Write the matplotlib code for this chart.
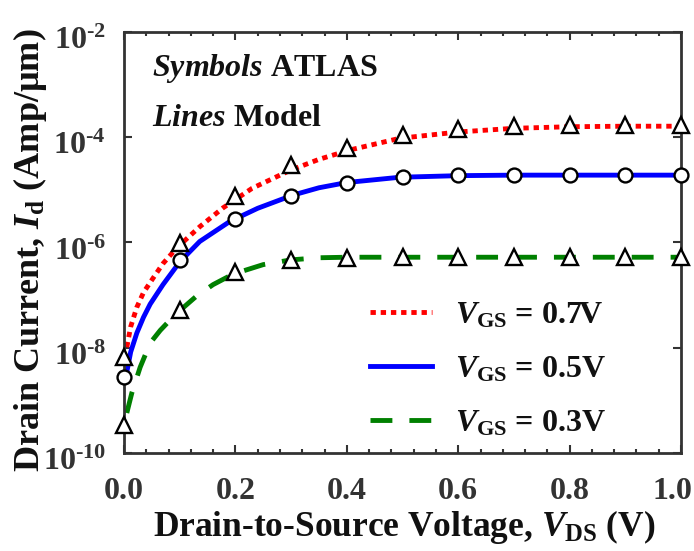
import numpy as np
import matplotlib
matplotlib.use("Agg")
import matplotlib.pyplot as plt
from matplotlib.ticker import FixedLocator, FuncFormatter
from matplotlib.transforms import ScaledTranslation

plt.rcParams['font.family'] = ['Liberation Serif', 'DejaVu Serif']
plt.rcParams['font.weight'] = 'bold'
plt.rcParams['mathtext.fontset'] = 'custom'
plt.rcParams['mathtext.rm'] = 'Liberation Serif:bold'
plt.rcParams['mathtext.bf'] = 'Liberation Serif:bold'
plt.rcParams['mathtext.it'] = 'Liberation Serif:italic:bold'

# ATLAS simulation points
vds_pts = [0.0, 0.1, 0.2, 0.3, 0.4, 0.5, 0.6, 0.7, 0.8, 0.9, 1.0]
atlas_07 = [10**-8.18, 10**-6.01, 10**-5.12, 10**-4.53, 10**-4.21, 10**-3.96,
            10**-3.85, 10**-3.79, 10**-3.77, 10**-3.77, 10**-3.77]
atlas_05 = [10**-8.56, 10**-6.33, 10**-5.56, 10**-5.12, 10**-4.87, 10**-4.75,
            10**-4.72, 10**-4.72, 10**-4.72, 10**-4.72, 10**-4.72]
atlas_03 = [10**-9.47, 10**-7.29, 10**-6.56, 10**-6.33, 10**-6.29, 10**-6.28,
            10**-6.28, 10**-6.28, 10**-6.28, 10**-6.28, 10**-6.28]

# model curves
vds_07 = [0.005, 0.012, 0.023, 0.035, 0.052, 0.07, 0.095, 0.136, 0.178, 0.23,
          0.298, 0.35, 0.406, 0.495, 0.6, 0.7, 0.8, 0.9, 1.0]
model_07 = [10**-7.99, 10**-7.6, 10**-7.23, 10**-6.95, 10**-6.68, 10**-6.4,
            10**-6.1, 10**-5.7, 10**-5.34, 10**-4.97, 10**-4.63, 10**-4.42,
            10**-4.24, 10**-4.02, 10**-3.9, 10**-3.83, 10**-3.8, 10**-3.79, 10**-3.79]
vds_05 = [0.005, 0.012, 0.023, 0.035, 0.047, 0.07, 0.1, 0.136, 0.19, 0.24,
          0.303, 0.35, 0.40, 0.495, 0.6, 0.7, 0.8, 0.9, 1.0]
model_05 = [10**-8.46, 10**-8.08, 10**-7.72, 10**-7.42, 10**-7.17, 10**-6.8,
            10**-6.37, 10**-5.98, 10**-5.6, 10**-5.35, 10**-5.1, 10**-4.96,
            10**-4.86, 10**-4.76, 10**-4.73, 10**-4.72, 10**-4.72, 10**-4.72, 10**-4.72]
vds_03 = [0.005, 0.014, 0.029, 0.047, 0.065, 0.083, 0.105, 0.13, 0.16, 0.196,
          0.25, 0.30, 0.35, 0.40, 0.5, 0.6, 0.7, 0.8, 0.9, 1.0]
model_03 = [10**-9.24, 10**-8.86, 10**-8.37, 10**-7.91, 10**-7.67, 10**-7.47,
            10**-7.25, 10**-7.02, 10**-6.8, 10**-6.6, 10**-6.42, 10**-6.33,
            10**-6.29, 10**-6.28, 10**-6.28, 10**-6.28, 10**-6.28, 10**-6.28,
            10**-6.28, 10**-6.28]

fig = plt.figure(figsize=(6.94, 5.51), dpi=100)
ax = fig.add_axes([0.1787, 0.1779, 0.8026, 0.764])

lw = 3.5
ax.plot(vds_07, model_07, color='#ff0000', lw=lw, linestyle=(0, (1.1, 1.0)),
        label=r'$\mathit{V}_{\mathrm{GS}}$ = 0.7V')
ax.plot(vds_05, model_05, color='#0000ff', lw=lw, linestyle='-',
        label=r'$\mathit{V}_{\mathrm{GS}}$ = 0.5V')
ax.plot(vds_03, model_03, color='#008000', lw=lw, linestyle=(0, (4.5, 3.5)),
        label=r'$\mathit{V}_{\mathrm{GS}}$ = 0.3V')

mk = dict(linestyle='none', markerfacecolor='white', markeredgecolor='black',
          markeredgewidth=1.7, clip_on=False, zorder=5)
ax.plot(vds_pts, atlas_07, marker='^', markersize=12, **mk)
ax.plot(vds_pts, atlas_05, marker='o', markersize=10, **mk)
ax.plot(vds_pts, atlas_03, marker='^', markersize=12, **mk)

ax.set_yscale('log')
ax.set_xlim(0, 1.0)
ax.set_ylim(1e-10, 1e-2)
ax.yaxis.set_major_locator(FixedLocator([1e-10, 1e-8, 1e-6, 1e-4, 1e-2]))
ax.yaxis.set_minor_locator(FixedLocator([]))
# short hyphen in the exponent instead of the wide math minus
ax.yaxis.set_major_formatter(FuncFormatter(
    lambda v, p: '$10^{\u2010%d}$' % abs(round(np.log10(v)))))
ax.xaxis.set_major_locator(FixedLocator([0, 0.2, 0.4, 0.6, 0.8, 1.0]))
ax.xaxis.set_minor_locator(FixedLocator(np.arange(0, 1.001, 0.04)))
ax.xaxis.set_major_formatter(FuncFormatter(lambda v, p: '%.1f' % v))

ax.tick_params(which='both', direction='in', top=True, right=True,
               colors='#333333', labelcolor='#333333', width=1.5)
ax.tick_params(which='major', length=6)
ax.tick_params(which='minor', length=3)
ax.tick_params(axis='x', which='major', labelsize=23, pad=17)
ax.tick_params(axis='y', which='major', labelsize=23, pad=13)
for s in ax.spines.values():
    s.set_linewidth(2)
    s.set_color('#333333')

ax.set_xlabel(r'Drain-to-Source Voltage, $\mathit{V}_{\mathrm{DS}}$ (V)',
              fontsize=25.5, fontweight='bold', color='#111111')
ax.set_ylabel(r'Drain Current, $\mathit{I}_{\mathrm{d}}$ (Amp/µm)',
              fontsize=26, fontweight='bold', color='#111111')
ax.xaxis.set_label_coords(0.504, -0.131)
ax.yaxis.set_label_coords(-0.135, 0.482)

ax.text(0.05, 0.895, r'$\mathit{Symbols}$ ATLAS', transform=ax.transAxes,
        fontsize=23, color='#111111', va='baseline')
ax.text(0.05, 0.777, r'$\mathit{Lines}$ Model', transform=ax.transAxes,
        fontsize=23, color='#111111', va='baseline')

ax.legend(loc='upper left', bbox_to_anchor=(0.418, 0.392), frameon=False,
          fontsize=23, handlelength=1.95, labelspacing=0.77, handletextpad=0.72,
          labelcolor='#111111', borderaxespad=0)

# nudge tick labels: y labels sit a bit low, last x label pulled inward
fig.canvas.draw()
for t in ax.yaxis.get_major_ticks():
    t.label1.set_transform(t.label1.get_transform()
                           + ScaledTranslation(0, -6 / 100, fig.dpi_scale_trans))
last = ax.xaxis.get_major_ticks()[-1].label1
last.set_transform(last.get_transform()
                   + ScaledTranslation(-9 / 100, 0, fig.dpi_scale_trans))

fig.savefig('out.png', dpi=100)
